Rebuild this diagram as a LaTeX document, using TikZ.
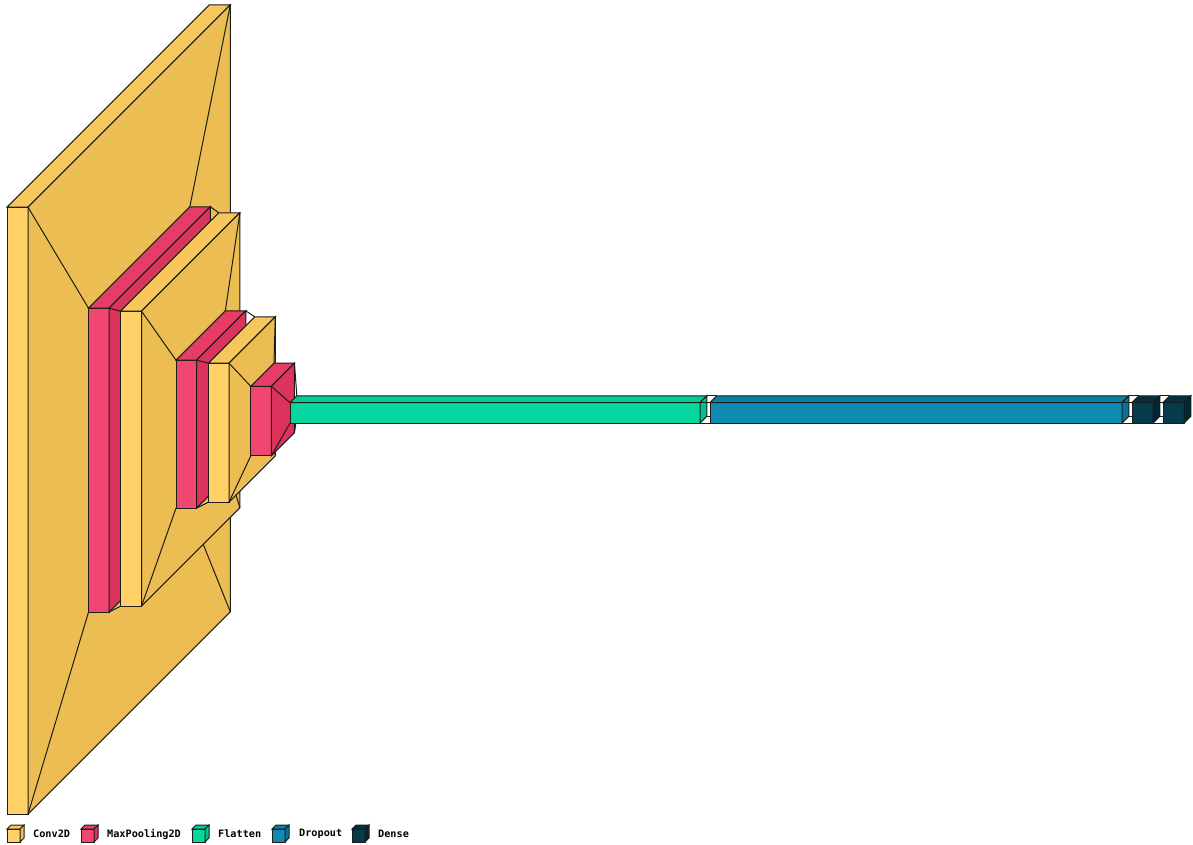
\documentclass[tikz,border=0pt]{standalone}
\usepackage{fontspec}
\newfontfamily\legendfam{DejaVu Sans Mono}
\definecolor{convF}{RGB}{255,209,102}
\definecolor{convT}{RGB}{245,199,92}
\definecolor{convS}{RGB}{235,189,82}
\definecolor{poolF}{RGB}{239,71,111}
\definecolor{poolT}{RGB}{229,61,101}
\definecolor{poolS}{RGB}{219,51,91}
\definecolor{flatF}{RGB}{6,214,160}
\definecolor{flatT}{RGB}{0,204,150}
\definecolor{flatS}{RGB}{0,194,140}
\definecolor{dropF}{RGB}{17,138,178}
\definecolor{dropT}{RGB}{7,128,168}
\definecolor{dropS}{RGB}{0,118,158}
\definecolor{densF}{RGB}{7,59,76}
\definecolor{densT}{RGB}{0,49,66}
\definecolor{densS}{RGB}{0,39,56}
\definecolor{edgecol}{RGB}{30,28,24}
% general box: name, x1, x2, ytop, ybot, depth
\newcommand{\mkboxg}[6]{%
  \pgfmathsetmacro\bxl{#2+#6}%
  \pgfmathsetmacro\bxr{#3+#6}%
  \pgfmathsetmacro\byt{#4-#6}%
  \pgfmathsetmacro\byb{#5-#6}%
  \coordinate (#1-a) at (#2,#4);
  \coordinate (#1-b) at (#3,#4);
  \coordinate (#1-c) at (#3,#5);
  \coordinate (#1-d) at (#2,#5);
  \coordinate (#1-e) at (\bxl,\byt);
  \coordinate (#1-f) at (\bxr,\byt);
  \coordinate (#1-g) at (\bxr,\byb);
  \coordinate (#1-h) at (\bxl,\byb);
}
% layer box centred on the common axis: name, x1, x2, height
\newcommand{\mklayer}[4]{%
  \pgfmathsetmacro\bde{#4/3}%
  \pgfmathsetmacro\ybt{409.5+(#4+\bde)/2}%
  \pgfmathsetmacro\ytp{\ybt-#4}%
  \mkboxg{#1}{#2}{#3}{\ytp}{\ybt}{\bde}%
}
% draw box faces: name, front, top, side
\newcommand{\paintbox}[4]{%
  \filldraw[boxedge, fill=#2] (#1-a) rectangle (#1-c);
  \filldraw[boxedge, fill=#3] (#1-a) -- (#1-e) -- (#1-f) -- (#1-b) -- cycle;
  \filldraw[boxedge, fill=#4] (#1-b) -- (#1-f) -- (#1-g) -- (#1-c) -- cycle;
}
% funnel lines from one box to the next
\newcommand{\funnel}[2]{%
  \draw[boxedge] (#1-f) -- (#2-e);
  \draw[boxedge] (#1-g) -- (#2-h);
  \draw[boxedge] (#1-c) -- (#2-d);
  \draw[boxedge] (#1-b) -- (#2-a);
}
\begin{document}
\begin{tikzpicture}[x=1pt,y=-1pt,
  boxedge/.style={draw=edgecol, line width=1pt, line join=miter},
  legtext/.style={anchor=west, inner sep=0pt, font=\legendfam\bfseries\fontsize{10.2}{12}\selectfont, text=black}]
\useasboundingbox[fill=white] (0,0) rectangle (1193,845);

% layers
\mklayer{c1}{7}{28}{607}
\paintbox{c1}{convF}{convT}{convS}
\mklayer{p1}{88.5}{109}{304}
\funnel{c1}{p1}
\paintbox{p1}{poolF}{poolT}{poolS}
\mklayer{c2}{120.5}{141.5}{295}
\funnel{p1}{c2}
\paintbox{c2}{convF}{convT}{convS}
\mklayer{p2}{176}{196.5}{148}
\funnel{c2}{p2}
\paintbox{p2}{poolF}{poolT}{poolS}
\mklayer{c3}{208.5}{229}{139}
\funnel{p2}{c3}
\paintbox{c3}{convF}{convT}{convS}
\mklayer{p3}{250.8}{271.3}{69.5}
\funnel{c3}{p3}
\paintbox{p3}{poolF}{poolT}{poolS}
\mklayer{fl}{290}{700}{20.5}
\funnel{p3}{fl}
\paintbox{fl}{flatF}{flatT}{flatS}
\mklayer{dr}{710}{1122}{20.5}
\funnel{fl}{dr}
\paintbox{dr}{dropF}{dropT}{dropS}
\mklayer{d1}{1132}{1153}{20.5}
\funnel{dr}{d1}
\paintbox{d1}{densF}{densT}{densS}
\mklayer{d2}{1163}{1184}{20.5}
\funnel{d1}{d2}
\paintbox{d2}{densF}{densT}{densS}

% legend
\mkboxg{l1}{7}{20}{829}{842}{4}
\paintbox{l1}{convF}{convT}{convS}
\node[legtext] (t1) at (33,834) {Conv2D};
\mkboxg{l2}{81}{94}{829}{842}{4}
\paintbox{l2}{poolF}{poolT}{poolS}
\node[legtext] (t2) at (107,834) {MaxPooling2D};
\mkboxg{l3}{192}{205}{829}{842}{4}
\paintbox{l3}{flatF}{flatT}{flatS}
\node[legtext] (t3) at (218,834) {Flatten};
\mkboxg{l4}{272}{285}{829}{842}{4}
\paintbox{l4}{dropF}{dropT}{dropS}
\node[legtext] (t4) at (299,834) {Dropout};
\mkboxg{l5}{352}{365}{829}{842}{4}
\paintbox{l5}{densF}{densT}{densS}
\node[legtext] (t5) at (378,834) {Dense};
\end{tikzpicture}
\end{document}
